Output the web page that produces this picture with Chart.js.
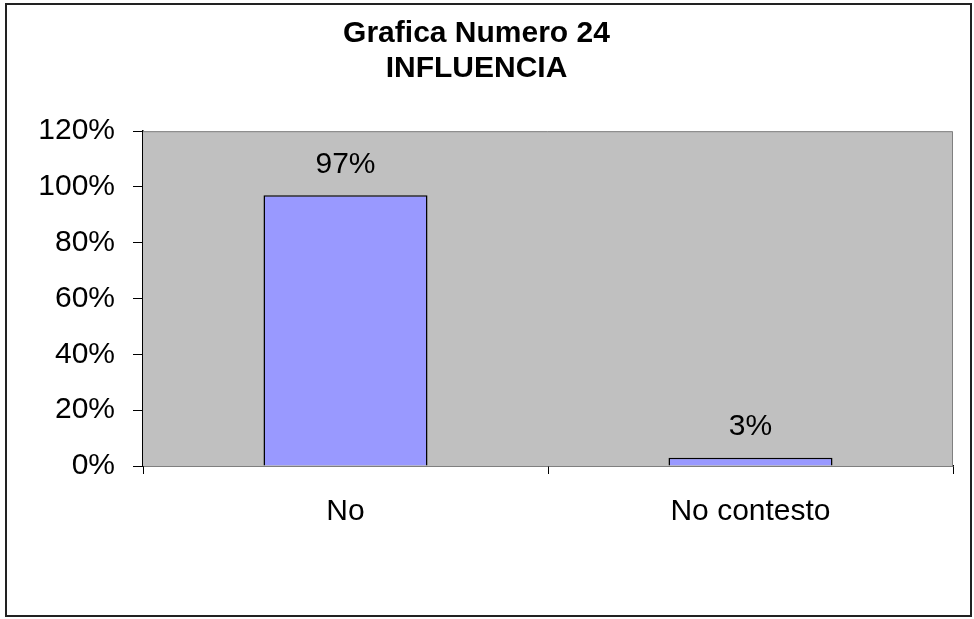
<!DOCTYPE html>
<html>
<head>
<meta charset="utf-8">
<script src="https://cdn.jsdelivr.net/npm/chart.js@4"></script>
<style>
  html, body { margin: 0; padding: 0; background: #fff; }
  #wrap { width: 974px; height: 619px; }
</style>
</head>
<body>
<div id="wrap"><canvas id="grafica" width="974" height="619"></canvas></div>
<script>
const categories = ["No", "No contesto"];
const percentValues = [97, 3];
const tickValues = [0, 20, 40, 60, 80, 100, 120];
const titleLines = ["Grafica Numero 24", "INFLUENCIA"];

const fontFamily = "'Liberation Sans', Arial, sans-serif";

// gray plot background + frame around the whole picture
const backgroundPlugin = {
    id: "fondo",
    beforeDatasetsDraw(chart) {
        const { ctx, chartArea: a } = chart;
        ctx.save();
        ctx.fillStyle = "#c0c0c0";
        ctx.fillRect(a.left, a.top, a.right - a.left, a.bottom - a.top);
        ctx.strokeStyle = "#808080";
        ctx.lineWidth = 1;
        ctx.beginPath();
        ctx.moveTo(a.left, a.top + 0.5);
        ctx.lineTo(a.right - 0.5, a.top + 0.5);
        ctx.lineTo(a.right - 0.5, a.bottom);
        ctx.stroke();
        ctx.restore();
    },
    afterDraw(chart) {
        const ctx = chart.ctx;
        ctx.save();
        ctx.strokeStyle = "#222";
        ctx.lineWidth = 2;
        ctx.strokeRect(6, 4, 965, 612);
        ctx.restore();
    }
};

// value labels above the bars
const valueLabels = {
    id: "etiquetas",
    afterDatasetsDraw(chart) {
        const ctx = chart.ctx;
        const meta = chart.getDatasetMeta(0);
        ctx.save();
        ctx.font = "30px " + fontFamily;
        ctx.fillStyle = "#000";
        ctx.textAlign = "center";
        ctx.textBaseline = "middle";
        meta.data.forEach((bar, i) => {
            ctx.fillText(percentValues[i] + "%", bar.x, bar.y - 31);
        });
        ctx.restore();
    }
};

new Chart(document.getElementById("grafica"), {
    type: "bar",
    data: {
        labels: categories,
        datasets: [{
            data: percentValues,
            backgroundColor: "#9999ff",
            borderColor: "#000",
            borderWidth: 1.5,
            categoryPercentage: 1,
            barPercentage: 0.405
        }]
    },
    options: {
        responsive: false,
        animation: false,
        layout: { padding: { left: 0, right: 21, top: 0, bottom: 0 } },
        plugins: {
            legend: { display: false },
            tooltip: { enabled: false },
            title: {
                display: true,
                text: titleLines,
                color: "#000",
                font: { family: fontFamily, size: 30, weight: "bold", lineHeight: 1.17 },
                padding: { top: 16, bottom: 45 }
            }
        },
        scales: {
            x: {
                afterFit(scale) { scale.height = 153; },
                grid: {
                    offset: true,
                    drawOnChartArea: false,
                    color: "#000",
                    tickLength: 8
                },
                border: { color: "#000", width: 1.5 },
                ticks: {
                    color: "#000",
                    font: { family: fontFamily, size: 30 },
                    padding: 20
                }
            },
            y: {
                min: 0,
                max: 120,
                afterFit(scale) { scale.width = 143; },
                afterBuildTicks(scale) {
                    scale.ticks = tickValues.map(v => ({ value: v }));
                },
                grid: {
                    drawOnChartArea: false,
                    color: "#000",
                    tickLength: 10
                },
                border: { color: "#000", width: 1.5 },
                ticks: {
                    color: "#000",
                    font: { family: fontFamily, size: 30 },
                    padding: 18,
                    callback: v => v + "%"
                }
            }
        }
    },
    plugins: [backgroundPlugin, valueLabels]
});
</script>
</body>
</html>
